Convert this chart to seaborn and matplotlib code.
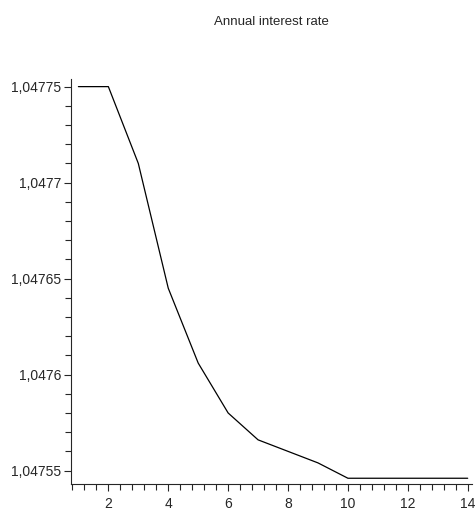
import numpy as np
import pandas as pd
import matplotlib
matplotlib.use("Agg")
import matplotlib.pyplot as plt
import seaborn as sns
from matplotlib.ticker import MultipleLocator, FuncFormatter

# --- Data ---
years = [1, 2, 3, 4, 5, 6, 7, 8, 9, 10, 11, 12, 13, 14]
rate = [1.04775, 1.04775, 1.04771, 1.047645, 1.047606, 1.04758, 1.047566,
        1.04756, 1.047554, 1.047546, 1.047546, 1.047546, 1.047546, 1.047546]
title = "Annual interest rate"

df = pd.DataFrame({"year": years, "rate": rate})

sns.set_style("ticks")
plt.rcParams['font.family'] = ['Liberation Sans Narrow', 'Liberation Sans', 'DejaVu Sans']

fig = plt.figure(figsize=(4.76, 5.16), dpi=100)
ax = fig.add_axes([0.149, 0.062, 0.843, 0.785])

sns.lineplot(data=df, x="year", y="rate", ax=ax, color="black", linewidth=0.9)

ax.set_xlim(0.75, 14.15)
ax.set_ylim(1.047543, 1.047754)

ax.xaxis.set_major_locator(MultipleLocator(2))
ax.xaxis.set_minor_locator(MultipleLocator(0.4))
ax.yaxis.set_major_locator(MultipleLocator(0.00005))
ax.yaxis.set_minor_locator(MultipleLocator(0.00001))


def comma_fmt(v, pos):
    s = f"{v:.6f}".rstrip("0").rstrip(".")
    return s.replace(".", ",")


ax.yaxis.set_major_formatter(FuncFormatter(comma_fmt))
ax.xaxis.set_major_formatter(FuncFormatter(lambda v, p: f"{int(round(v))}"))

ax.tick_params(axis="both", which="major", length=5, width=0.8, labelsize=10, pad=2)
ax.tick_params(axis="x", which="major", pad=4)
ax.tick_params(axis="both", which="minor", length=4, width=0.8)

sns.despine(ax=ax)
ax.spines["left"].set_linewidth(0.8)
ax.spines["bottom"].set_linewidth(0.8)
ax.set_xlabel("")
ax.set_ylabel("")

fig.text(0.571, 0.957, title, ha="center", va="center", fontsize=9.5)

fig.savefig("out.png", dpi=100)
